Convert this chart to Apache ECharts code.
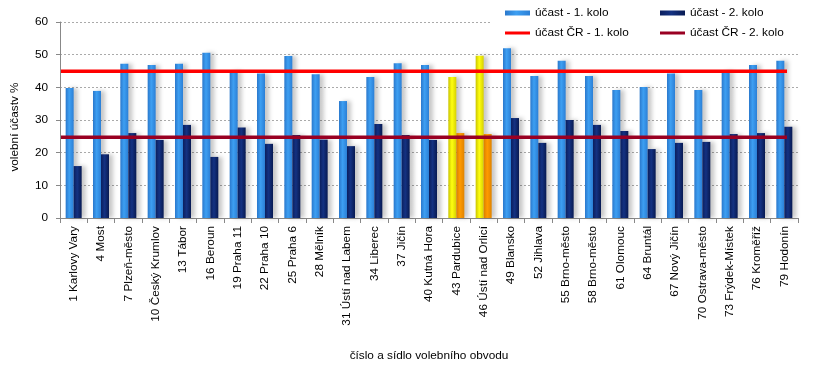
<!DOCTYPE html>
<html>
<head>
<meta charset="utf-8">
<script src="https://cdn.jsdelivr.net/npm/echarts@6/dist/echarts.min.js"></script>
<style>
html,body{margin:0;padding:0;background:#fff;}
#c{width:815px;height:367px;}
</style>
</head>
<body>
<div id="c"></div>
<script>
var categories = ['1 Karlovy Vary','4 Most','7 Plzeň-město','10 Český Krumlov','13 Tábor','16 Beroun','19 Praha 11','22 Praha 10','25 Praha 6','28 Mělník','31 Ústí nad Labem','34 Liberec','37 Jičín','40 Kutná Hora','43 Pardubice','46 Ústí nad Orlicí','49 Blansko','52 Jihlava','55 Brno-město','58 Brno-město','61 Olomouc','64 Bruntál','67 Nový Jičín','70 Ostrava-město','73 Frýdek-Místek','76 Kroměříž','79 Hodonín'];
var round1 = [39.8,38.9,47.2,46.8,47.2,50.6,45.0,44.2,49.6,44.0,35.8,43.2,47.4,46.8,43.2,49.7,52.0,43.5,48.1,43.5,39.2,40.1,44.2,39.2,45.0,46.8,48.1];
var round2 = [15.9,19.5,26.0,23.9,28.5,18.7,27.7,22.7,25.4,24.0,22.0,28.8,25.4,23.9,26.0,25.7,30.6,23.0,30.0,28.5,26.6,21.1,23.0,23.3,25.7,26.0,27.9];
var nationalRound1 = 44.9;
var nationalRound2 = 24.7;
var highlighted = ['43 Pardubice','46 Ústí nad Orlicí'];
var yTicks = [0,10,20,30,40,50,60];
var seriesNames = ['účast - 1. kolo','účast - 2. kolo','účast ČR - 1. kolo','účast ČR - 2. kolo'];

function grad(edge, mid, edge2){
  return new echarts.graphic.LinearGradient(0,0,1,0,[
    {offset:0,color:edge},{offset:0.45,color:mid},{offset:1,color:edge2}
  ]);
}
var shadow = {shadowColor:'rgba(0,0,0,0.22)', shadowBlur:4, shadowOffsetX:4};
var blueStyle = Object.assign({color: grad('#2a78cc','#3d9ff2','#2b7fd6')}, shadow);
var navyStyle = Object.assign({color: grad('#0b1f5e','#143282','#081a52')}, shadow);
var yellowStyle = Object.assign({color: grad('#c9c400','#ffff10','#d6d000')}, shadow);
var orangeStyle = Object.assign({color: grad('#d97f00','#ff9a00','#e08300')}, shadow);

function build(values, hiStyle){
  return values.map(function(v,i){
    if (highlighted.indexOf(categories[i]) >= 0) return {value:v, itemStyle:hiStyle};
    return v;
  });
}

var font = 'Liberation Sans, Arial, sans-serif';
var fs = 11.8;
var chart = echarts.init(document.getElementById('c'));
function lg(name, left, top, h){
  return {data:[name], left:left, top:top, padding:0, itemWidth:25, itemHeight:h, icon:'rect', itemGap:0,
    textStyle:{fontFamily:font, fontSize:fs, color:'#000'}, selectedMode:false};
}
chart.setOption({
  animation:false,
  backgroundColor:'#fff',
  graphic:[{type:'rect', z:1, shape:{x:490,y:0,width:325,height:40}, style:{fill:'#fff'}}],
  legend:[
    lg(seriesNames[0],505,7,5),
    lg(seriesNames[1],660,7,5),
    lg(seriesNames[2],505,27,3),
    lg(seriesNames[3],660,27,3)
  ],
  grid:[
    {left:60, right:17, top:22, bottom:149},
    {left:61, right:28, top:22, bottom:149}
  ],
  xAxis:[
    {type:'category', gridIndex:0, data:categories,
     axisLine:{lineStyle:{color:'#888',width:1}},
     axisTick:{show:true, length:5, lineStyle:{color:'#888'}},
     axisLabel:{rotate:90, interval:0, margin:8, fontFamily:font, fontSize:fs, color:'#000'},
     name:'číslo a sídlo volebního obvodu', nameLocation:'middle', nameGap:132,
     nameTextStyle:{fontFamily:font, fontSize:fs, color:'#000'}},
    {type:'category', gridIndex:1, data:['',''], boundaryGap:false, show:false}
  ],
  yAxis:[
    {type:'value', gridIndex:0, min:yTicks[0], max:yTicks[yTicks.length-1], interval:10,
     axisLine:{show:true, lineStyle:{color:'#888'}},
     axisTick:{show:true, length:4, lineStyle:{color:'#888'}},
     axisLabel:{fontFamily:font, fontSize:fs, color:'#000', margin:12},
     splitLine:{show:true, lineStyle:{color:'#aaa', type:[2,2], width:1}},
     name:'volební účastv %', nameLocation:'middle', nameGap:39, nameRotate:90,
     nameTextStyle:{fontFamily:font, fontSize:fs, color:'#000', padding:[0,14,0,0]}},
    {type:'value', gridIndex:1, min:yTicks[0], max:yTicks[yTicks.length-1], show:false}
  ],
  series:[
    {name:seriesNames[0], type:'bar', xAxisIndex:0, yAxisIndex:0, barWidth:8, barGap:'0%',
     itemStyle:blueStyle, data:build(round1, yellowStyle), z:2},
    {name:seriesNames[1], type:'bar', xAxisIndex:0, yAxisIndex:0, barWidth:8, barGap:'0%',
     itemStyle:navyStyle, data:build(round2, orangeStyle), z:2},
    {name:seriesNames[2], type:'line', xAxisIndex:1, yAxisIndex:1, symbol:'none', z:5,
     lineStyle:{color:'#ff0000', width:3.5}, itemStyle:{color:'#ff0000'},
     data:[nationalRound1, nationalRound1]},
    {name:seriesNames[3], type:'line', xAxisIndex:1, yAxisIndex:1, symbol:'none', z:5,
     lineStyle:{color:'#990022', width:3.5}, itemStyle:{color:'#990022'},
     data:[nationalRound2, nationalRound2]}
  ]
});
</script>
</body>
</html>
